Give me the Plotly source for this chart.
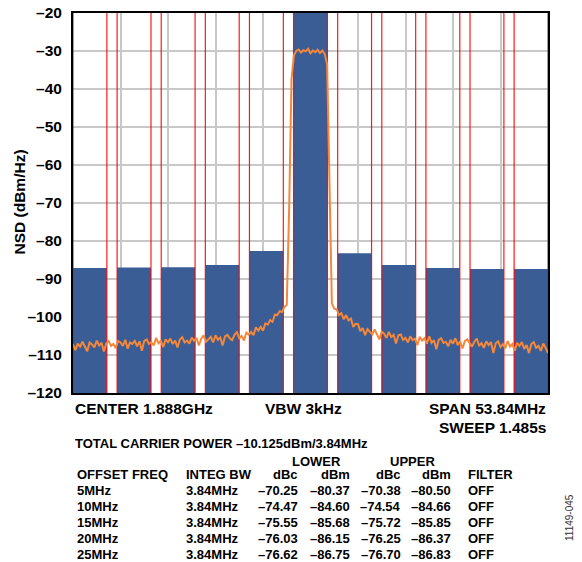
import numpy as np
import plotly.graph_objects as go

# ---------------- data ----------------
span_mhz = 53.84
chan_bw = 3.84
chan_centers = [-25, -20, -15, -10, -5, 0, 5, 10, 15, 20, 25]
# integrated channel power bars (dBm) (carrier bar clipped at top)
bar_power = [-87.1, -87.0, -86.9, -86.3, -82.6, -10.125, -83.2, -86.3, -87.1, -87.4, -87.4]

# NSD trace (dBm/Hz), equally spaced across the span
nsd_trace = [
    -107.2, -108.7, -107.0, -107.8, -106.5, -107.6, -109.0, -106.7, -107.2, -108.0,
    -106.2, -107.5, -106.8, -109.1, -107.0, -106.3, -107.6, -107.1, -108.2, -106.3,
    -106.7, -107.6, -106.0, -108.3, -106.7, -107.1, -106.3, -107.7, -106.4, -108.9,
    -106.3, -105.9, -107.1, -106.6, -107.5, -105.5, -106.9, -106.3, -107.9, -105.9,
    -106.6, -105.7, -107.1, -106.2, -108.0, -105.9, -105.3, -106.7, -106.2, -107.0,
    -105.4, -106.3, -105.5, -107.5, -105.7, -104.8, -106.5, -105.9, -105.2, -106.7,
    -104.8, -106.0, -105.4, -107.5, -105.1, -104.7, -105.6, -106.1, -104.7, -104.0,
    -105.6, -105.0, -106.2, -104.1, -104.7, -103.9, -104.8, -102.7, -103.6, -102.6,
    -103.6, -101.7, -102.0, -100.8, -101.3, -99.4, -99.5, -98.5, -98.7, -97.4,
    -96.8, -72.0, -37.5,
    -31.2, -30.0, -29.6, -30.4, -29.8, -30.1, -29.4, -30.6, -29.9, -30.3,
    -29.7, -30.5, -29.9, -30.8, -33.5,
    -68.0, -96.4,
    -97.8, -98.0, -99.5, -99.0, -100.6, -99.5, -100.9, -100.4, -102.6, -101.8,
    -101.9, -103.7, -102.9, -104.8, -103.2, -103.8, -104.6, -103.3, -104.7, -105.9,
    -103.9, -104.4, -105.5, -103.9, -105.3, -104.7, -107.0, -104.8, -104.6, -106.0,
    -105.5, -106.7, -105.1, -106.1, -105.7, -107.4, -105.2, -106.2, -105.6, -107.0,
    -105.1, -106.8, -106.1, -108.5, -106.0, -105.6, -106.8, -106.5, -107.7, -106.0,
    -107.0, -105.6, -107.4, -106.4, -108.3, -106.3, -105.9, -107.0, -107.8, -106.5,
    -105.7, -107.5, -106.9, -108.1, -106.4, -107.4, -106.6, -109.5, -106.9, -106.4,
    -107.9, -107.1, -108.3, -106.3, -107.8, -107.1, -108.9, -106.8, -107.6, -106.6,
    -108.4, -107.4, -109.5, -107.1, -106.6, -108.1, -107.6, -108.9, -107.0, -108.1,
    -109.5,
]

y_ticks = [-20, -30, -40, -50, -60, -70, -80, -90, -100, -110, -120]

# table data
total_power = "TOTAL CARRIER POWER –10.125dBm/3.84MHz"
offset_freq = ["5MHz", "10MHz", "15MHz", "20MHz", "25MHz"]
integ_bw = ["3.84MHz", "3.84MHz", "3.84MHz", "3.84MHz", "3.84MHz"]
lower_dbc = [-70.25, -74.47, -75.55, -76.03, -76.62]
lower_dbm = [-80.37, -84.60, -85.68, -86.15, -86.75]
upper_dbc = [-70.38, -74.54, -75.72, -76.25, -76.70]
upper_dbm = [-80.50, -84.66, -85.85, -86.37, -86.83]
filter_state = ["OFF", "OFF", "OFF", "OFF", "OFF"]

# ---------------- figure ----------------
W, H = 582, 562
L, R, T, B = 73, 548, 13, 393  # plot area in pixels
FONT = "Liberation Sans, Arial, sans-serif"
y_min, y_max = -120, -20
half = span_mhz / 2

fig = go.Figure()

fig.add_trace(go.Bar(
    x=chan_centers,
    y=[v - y_min for v in bar_power],
    base=y_min,
    width=chan_bw,
    marker=dict(color="#3a5d96", line=dict(width=0)),
    hoverinfo="skip",
))

# red channel edge lines
lx, ly = [], []
for c in chan_centers:
    for e in (c - chan_bw / 2, c + chan_bw / 2):
        lx += [e, e, None]
        ly += [y_min, y_max, None]
fig.add_trace(go.Scatter(x=lx, y=ly, mode="lines",
                         line=dict(color="rgba(255,0,0,0.9)", width=1.2),
                         hoverinfo="skip"))

freq = np.linspace(-half, half, len(nsd_trace))
fig.add_trace(go.Scatter(x=freq, y=nsd_trace, mode="lines",
                         line=dict(color="#f5873a", width=2),
                         hoverinfo="skip"))

fig.update_layout(
    width=W, height=H,
    margin=dict(l=L, r=W - R, t=T, b=H - B, pad=0),
    plot_bgcolor="white", paper_bgcolor="white",
    showlegend=False,
    font=dict(family=FONT, color="black"),
)
fig.update_xaxes(
    range=[-half, half], tick0=-half, dtick=span_mhz / 10,
    showticklabels=False, ticks="", automargin=False,
    showgrid=True, gridcolor="#c8c8c8", gridwidth=1.5,
    showline=True, linecolor="black", linewidth=2, mirror=True,
    zeroline=False,
)
fig.update_yaxes(
    range=[y_min, y_max], automargin=False,
    tickvals=y_ticks,
    ticktext=[("–" + str(abs(v))) if v < 0 else str(v) for v in y_ticks],
    tickfont=dict(size=15.5, family=FONT, weight="bold", color="black"),
    ticks="", ticklabelstandoff=6,
    showgrid=True, gridcolor="#c8c8c8", gridwidth=1.5,
    showline=True, linecolor="black", linewidth=2, mirror=True,
    zeroline=False,
)


def px(xp):
    return (xp - L) / (R - L)


def py(yp):
    return (B - yp) / (B - T)


def txt(x, y, s, size=13, xanchor="left", bold=True, angle=0, color="black"):
    fig.add_annotation(
        x=px(x), y=py(y), xref="paper", yref="paper", text=s, showarrow=False,
        xanchor=xanchor, yanchor="middle", textangle=angle,
        font=dict(size=size, family=FONT, weight="bold" if bold else "normal", color=color),
    )


# y title
txt(18.5, 202, "NSD (dBm/Hz)", size=15.5, xanchor="center", angle=-90)

# under-plot annotations
txt(73, 408, "CENTER 1.888GHz", size=15.5)
txt(303, 408, "VBW 3kHz", size=15.5, xanchor="center")
txt(548, 408, "SPAN 53.84MHz", size=15.5, xanchor="right")
txt(548, 427.5, "SWEEP 1.485s", size=15.5, xanchor="right")
txt(73, 443, total_power, size=13)

# table
def fmt(v):
    return ("–" if v < 0 else "") + f"{abs(v):.2f}"

txt(316, 461, "LOWER", xanchor="center")
txt(412, 461, "UPPER", xanchor="center")
hy = 474.5
txt(74.5, hy, "OFFSET FREQ")
txt(183.5, hy, "INTEG BW")
txt(300, hy, "dBc", xanchor="right")
txt(351.7, hy, "dBm", xanchor="right")
txt(402.7, hy, "dBc", xanchor="right")
txt(453.3, hy, "dBm", xanchor="right")
txt(466, hy, "FILTER")
for i in range(len(offset_freq)):
    ry = 490.7 + 15.9 * i
    txt(74.5, ry, offset_freq[i])
    txt(183.5, ry, integ_bw[i])
    txt(300, ry, fmt(lower_dbc[i]), xanchor="right")
    txt(351.7, ry, fmt(lower_dbm[i]), xanchor="right")
    txt(402.7, ry, fmt(upper_dbc[i]), xanchor="right")
    txt(453.3, ry, fmt(upper_dbm[i]), xanchor="right")
    txt(466, ry, filter_state[i])

txt(569, 518, "11149-045", size=10, xanchor="center", bold=False, angle=-90, color="#333333")

fig.write_html("out.html", config={"displayModeBar": False},
               post_script="document.body.style.margin='0';")
